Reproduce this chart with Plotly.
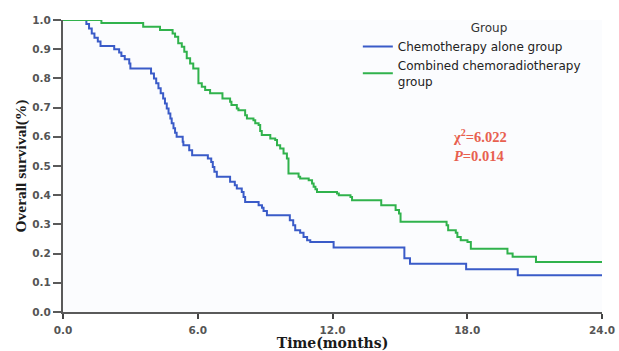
import plotly.graph_objects as go

# Kaplan-Meier step data (time in months, survival proportion)
chemo_time = [0, 1.04, 1.16, 1.28, 1.40, 1.55, 1.67, 2.28, 2.50, 2.60, 2.75, 2.95, 3.00,
              3.92, 4.05, 4.15, 4.25, 4.35, 4.46, 4.54, 4.62, 4.70, 4.78, 4.84, 4.92, 4.99,
              5.06, 5.33, 5.36, 5.62, 5.75, 6.45, 6.60, 6.67, 6.74, 6.85, 7.44, 7.65, 7.74,
              7.96, 8.04, 8.11, 8.71, 8.86, 8.93, 9.08, 10.10, 10.25, 10.34, 10.56, 10.71,
              10.87, 11.01, 12.05, 15.20, 15.45, 17.95, 20.25, 24.0]
chemo_surv = [1.0, 0.986, 0.971, 0.954, 0.939, 0.926, 0.911, 0.900, 0.889, 0.877, 0.866, 0.851, 0.834,
              0.817, 0.800, 0.783, 0.766, 0.749, 0.731, 0.714, 0.697, 0.680, 0.663, 0.646, 0.629, 0.614,
              0.600, 0.583, 0.571, 0.554, 0.537, 0.526, 0.514, 0.497, 0.480, 0.463, 0.446, 0.434, 0.423,
              0.411, 0.394, 0.377, 0.366, 0.357, 0.346, 0.331, 0.314, 0.297, 0.280, 0.271, 0.257,
              0.246, 0.240, 0.221, 0.184, 0.165, 0.146, 0.126, 0.126]

combo_time = [0, 1.71, 3.57, 4.32, 4.88, 4.99, 5.13, 5.29, 5.40, 5.51, 5.66, 5.80, 6.03, 6.18,
              6.33, 6.55, 7.10, 7.44, 7.50, 7.74, 7.81, 8.11, 8.19, 8.48, 8.56, 8.71, 8.78, 8.85,
              9.23, 9.45, 9.53, 9.67, 9.82, 9.97, 10.04, 10.49, 10.56, 10.94, 11.09, 11.16, 11.24,
              11.31, 12.20, 12.28, 12.80, 12.87, 14.17, 14.81, 14.96, 15.03, 17.08, 17.15, 17.49,
              17.56, 17.71, 18.01, 18.16, 19.79, 20.02, 21.06, 24.0]
combo_surv = [1.0, 0.990, 0.977, 0.966, 0.954, 0.943, 0.920, 0.908, 0.891, 0.869, 0.851, 0.834, 0.783, 0.771,
              0.760, 0.749, 0.731, 0.720, 0.709, 0.697, 0.691, 0.674, 0.663, 0.657, 0.646, 0.640, 0.620, 0.606,
              0.594, 0.589, 0.571, 0.560, 0.543, 0.526, 0.474, 0.463, 0.457, 0.451, 0.440, 0.429, 0.420,
              0.411, 0.406, 0.400, 0.394, 0.383, 0.366, 0.349, 0.337, 0.309, 0.297, 0.280, 0.271,
              0.257, 0.246, 0.240, 0.217, 0.200, 0.189, 0.171, 0.171]

series_names = ["Chemotherapy alone group", "Combined chemoradiotherapy<br>group"]
series_colors = ["#3a5bc8", "#30b24c"]

x_tick_vals = [0, 6, 12, 18, 24]
x_tick_text = ["0.0", "6.0", "12.0", "18.0", "24.0"]
y_tick_vals = [0.0, 0.1, 0.2, 0.3, 0.4, 0.5, 0.6, 0.7, 0.8, 0.9, 1.0]
y_tick_text = ["0.0", "0.1", "0.2", "0.3", "0.4", "0.5", "0.6", "0.7", "0.8", "0.9", "1.0"]

stat_text = "<b>χ<sup>2</sup>=6.022<br><i>P</i>=0.014</b>"

fig = go.Figure()
fig.add_trace(go.Scatter(x=chemo_time, y=chemo_surv, mode="lines", name=series_names[0],
                         line=dict(shape="hv", color=series_colors[0], width=2)))
fig.add_trace(go.Scatter(x=combo_time, y=combo_surv, mode="lines", name=series_names[1],
                         line=dict(shape="hv", color=series_colors[1], width=2)))

axis_font = dict(family="DejaVu Sans, Verdana, sans-serif", size=10.5, color="#555555", weight="bold")

fig.update_layout(
    width=619, height=351,
    margin=dict(l=63, r=17, t=20, b=39, autoexpand=False),
    paper_bgcolor="#ffffff",
    plot_bgcolor="#fbfcfe",
    showlegend=True,
    legend=dict(
        x=0.547, y=1.012, xanchor="left", yanchor="top",
        bgcolor="rgba(0,0,0,0)",
        font=dict(family="DejaVu Sans, Verdana, sans-serif", size=12, color="#222222"),
        title=dict(text="&nbsp;&nbsp;&nbsp;&nbsp;&nbsp;&nbsp;&nbsp;&nbsp;&nbsp;Group", side="top center",
                   font=dict(family="DejaVu Sans, Verdana, sans-serif", size=12, color="#333333")),
        itemwidth=30, tracegroupgap=0,
    ),
    xaxis=dict(
        range=[0, 24], tickvals=x_tick_vals, ticktext=x_tick_text,
        showgrid=False, zeroline=False, showline=True, linecolor="#5a5a5a", linewidth=2,
        ticks="outside", ticklen=5, tickwidth=2, tickcolor="#444444",
        tickfont=axis_font, ticklabelstandoff=2, automargin=False,
        title=dict(text="<b>Time(months)</b>", standoff=8,
                   font=dict(family="DejaVu Serif, serif", size=14, color="#1a1a1a")),
    ),
    yaxis=dict(
        range=[0, 1.0], tickvals=y_tick_vals, ticktext=y_tick_text,
        showgrid=False, zeroline=False, showline=True, linecolor="#5a5a5a", linewidth=2,
        ticks="outside", ticklen=8, tickwidth=2, tickcolor="#5a5a5a",
        tickfont=axis_font, automargin=False,
        title=dict(text="<b>Overall survival(%)</b>", standoff=2,
                   font=dict(family="Liberation Serif, Times New Roman, serif", size=15.5, color="#1a1a1a")),
    ),
    annotations=[dict(
        text=stat_text, xref="paper", yref="paper", x=0.72, y=0.569,
        xanchor="left", yanchor="middle", align="left", showarrow=False,
        font=dict(family="Liberation Serif, Times New Roman, serif", size=14.5, color="#e8604f"),
    )],
)

fig.write_html("out.html")
